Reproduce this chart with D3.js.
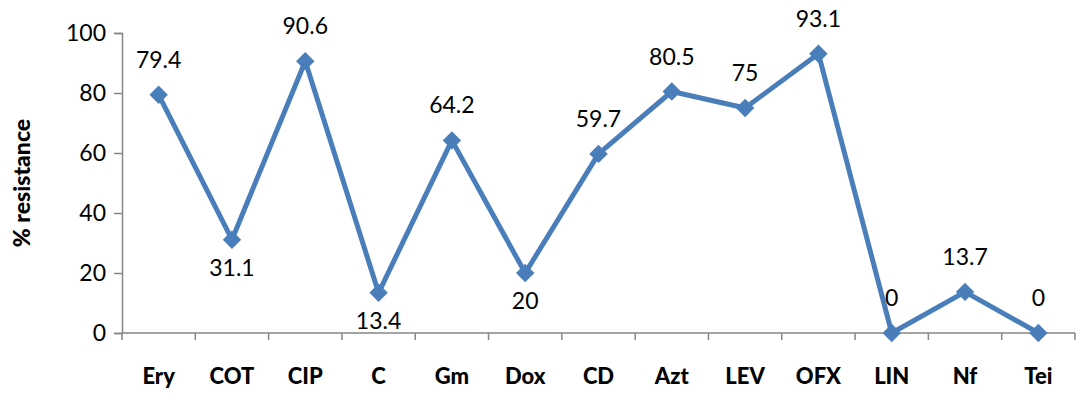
<!DOCTYPE html>
<html>
<head>
<meta charset="utf-8">
<script src="https://cdn.jsdelivr.net/npm/d3@7"></script>
<style>
  html, body { margin: 0; padding: 0; background: #fff; }
  svg { display: block; }
  text { font-family: Lato, "Open Sans", sans-serif; fill: #000; }
</style>
</head>
<body>
<svg id="chart" width="1077" height="394"></svg>
<script>
// Antibiotic resistance (%) by agent
const categories = ["Ery", "COT", "CIP", "C", "Gm", "Dox", "CD", "Azt", "LEV", "OFX", "LIN", "Nf", "Tei"];
const resistance = [79.4, 31.1, 90.6, 13.4, 64.2, 20, 59.7, 80.5, 75, 93.1, 0, 13.7, 0];
// whether each value label sits above (true) or below (false) its point
const labelAbove = [true, false, true, false, true, false, true, true, true, true, true, true, true];
const yTicks = [0, 20, 40, 60, 80, 100];

const svg = d3.select("#chart");
const plotLeft = 122, plotRight = 1075, plotTop = 33, plotBottom = 333;
const axisColor = "#868686";
const lineColor = "#4A7EBB";

const x = d3.scaleBand().domain(categories).range([plotLeft, plotRight]);
const y = d3.scaleLinear().domain([0, 100]).range([plotBottom, plotTop]);

// Y axis
const yAxis = svg.append("g").attr("transform", `translate(${plotLeft},0)`)
  .call(d3.axisLeft(y).tickValues(yTicks).tickSize(8).tickPadding(8));
yAxis.select(".domain").attr("stroke", axisColor).attr("stroke-width", 1.5);
yAxis.selectAll(".tick line").attr("stroke", axisColor).attr("stroke-width", 1.5);
yAxis.selectAll(".tick text").style("font-size", "23px").style("font-family", "Lato, sans-serif").attr("fill", "#000");

// X axis: ticks at band boundaries
const xAxisG = svg.append("g").attr("transform", `translate(0,${plotBottom})`);
xAxisG.append("line").attr("x1", plotLeft).attr("x2", plotRight).attr("y1", 0).attr("y2", 0)
  .attr("stroke", axisColor).attr("stroke-width", 1.5);
const boundaries = categories.map(c => x(c)).concat([x(categories[categories.length - 1]) + x.bandwidth()]);
xAxisG.selectAll(".bt").data(boundaries).enter().append("line")
  .attr("x1", d => d).attr("x2", d => d).attr("y1", 0).attr("y2", 7)
  .attr("stroke", axisColor).attr("stroke-width", 1.5);
xAxisG.selectAll(".cl").data(categories).enter().append("text")
  .attr("x", d => x(d) + x.bandwidth() / 2)
  .attr("y", 51)
  .attr("text-anchor", "middle")
  .style("font-size", "22px").style("font-weight", "900")
  .text(d => d);

// Y axis title
svg.append("text")
  .attr("transform", `translate(30,${(plotTop + plotBottom) / 2}) rotate(-90)`)
  .attr("text-anchor", "middle")
  .style("font-size", "23px").style("font-weight", "900")
  .text("% resistance");

const pts = categories.map((c, i) => ({ c, v: resistance[i], above: labelAbove[i] }));
const cx = d => x(d.c) + x.bandwidth() / 2;

// Series line
svg.append("path").datum(pts)
  .attr("fill", "none").attr("stroke", lineColor).attr("stroke-width", 5)
  .attr("stroke-linejoin", "round")
  .attr("d", d3.line().x(cx).y(d => y(d.v)));

// Diamond markers
svg.selectAll(".mk").data(pts).enter().append("path")
  .attr("transform", d => `translate(${cx(d)},${y(d.v)}) rotate(45)`)
  .attr("d", d3.symbol().type(d3.symbolSquare).size(170))
  .attr("fill", lineColor);

// Value labels
svg.selectAll(".vl").data(pts).enter().append("text")
  .attr("x", cx)
  .attr("y", d => d.above ? y(d.v) - 35 : y(d.v) + 28)
  .attr("dy", "0.35em")
  .attr("text-anchor", "middle")
  .style("font-size", "23px")
  .text(d => d.v);
</script>
</body>
</html>
